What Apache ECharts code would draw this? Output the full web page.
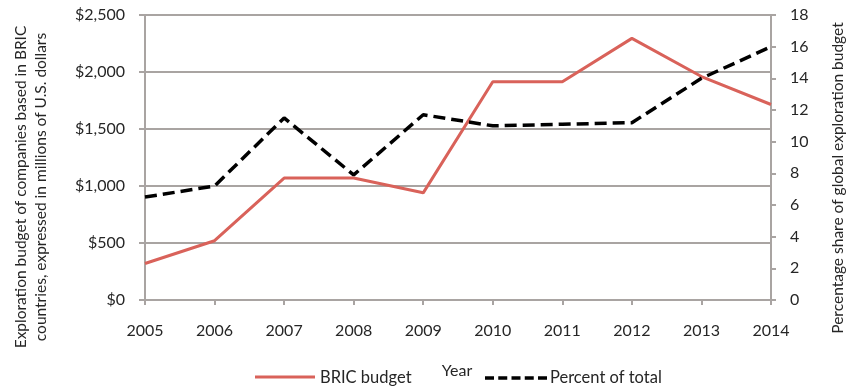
<!DOCTYPE html>
<html>
<head>
<meta charset="utf-8">
<script src="https://cdn.jsdelivr.net/npm/echarts@6/dist/echarts.min.js"></script>
<style>
  html, body { margin: 0; padding: 0; background: #fff; }
  #chart { width: 847px; height: 388px; }
</style>
</head>
<body>
<div id="chart"></div>
<script>
// Exploration budgets of BRIC-based companies, 2005–2014
const years = ['2005', '2006', '2007', '2008', '2009', '2010', '2011', '2012', '2013', '2014'];
const bricBudget = [320, 520, 1070, 1070, 940, 1915, 1915, 2295, 1960, 1715];   // millions of USD
const percentOfTotal = [6.5, 7.2, 11.5, 7.9, 11.7, 11.0, 11.1, 11.2, 14.0, 16.0]; // % of global budget

const leftTicks = { min: 0, max: 2500, interval: 500 };
const rightTicks = { min: 0, max: 18, interval: 2 };

const FONT = 'Lato, "Open Sans", sans-serif';
const TEXT = '#262626';
const GRID = '#a9a4a2';

const chart = echarts.init(document.getElementById('chart'));

chart.setOption({
  animation: false,
  backgroundColor: '#ffffff',
  grid: { left: 145, right: 76, top: 15, bottom: 88, containLabel: false },
  xAxis: {
    type: 'category',
    data: years,
    boundaryGap: false,
    axisLine: { lineStyle: { color: GRID, width: 2 } },
    axisTick: { show: true, length: 5, lineStyle: { color: GRID, width: 2 } },
    axisLabel: { color: TEXT, fontFamily: FONT, fontSize: 16, margin: 23 }
  },
  yAxis: [
    {
      type: 'value',
      position: 'left',
      min: leftTicks.min, max: leftTicks.max, interval: leftTicks.interval,
      axisLine: { show: true, lineStyle: { color: GRID, width: 2 } },
      axisTick: { show: true, length: 6, lineStyle: { color: GRID, width: 2 } },
      splitLine: { show: true, lineStyle: { color: GRID, width: 2 } },
      axisLabel: {
        color: TEXT, fontFamily: FONT, fontSize: 16, margin: 20,
        formatter: v => '$' + v.toLocaleString('en-US')
      }
    },
    {
      type: 'value',
      position: 'right',
      min: rightTicks.min, max: rightTicks.max, interval: rightTicks.interval,
      axisLine: { show: true, lineStyle: { color: GRID, width: 2 } },
      axisTick: { show: true, length: 5, lineStyle: { color: GRID, width: 2 } },
      splitLine: { show: false },
      axisLabel: { color: TEXT, fontFamily: FONT, fontSize: 16, margin: 19 }
    }
  ],
  legend: { show: false },
  series: [
    {
      name: 'BRIC budget',
      type: 'line',
      yAxisIndex: 0,
      data: bricBudget,
      symbol: 'none',
      lineStyle: { color: '#d9625a', width: 3 },
      z: 2
    },
    {
      name: 'Percent of total',
      type: 'line',
      yAxisIndex: 1,
      data: percentOfTotal,
      symbol: 'none',
      lineStyle: { color: '#000000', width: 3.5, type: [12, 6] },
      z: 3
    }
  ],
  graphic: [
    // left axis title (two lines, rotated)
    {
      type: 'text', x: 21, y: 187, rotation: Math.PI / 2,
      style: {
        text: 'Exploration budget of companies based in BRIC',
        fill: TEXT, font: '15.5px ' + FONT, align: 'center', verticalAlign: 'middle'
      }
    },
    {
      type: 'text', x: 41, y: 187, rotation: Math.PI / 2,
      style: {
        text: 'countries, expressed in millions of U.S. dollars',
        fill: TEXT, font: '15.5px ' + FONT, align: 'center', verticalAlign: 'middle'
      }
    },
    // right axis title
    {
      type: 'text', x: 838, y: 178, rotation: Math.PI / 2,
      style: {
        text: 'Percentage share of global exploration budget',
        fill: TEXT, font: '15.5px ' + FONT, align: 'center', verticalAlign: 'middle'
      }
    },
    // x axis title
    {
      type: 'text', x: 457, y: 371,
      style: { text: 'Year', fill: TEXT, font: '16px ' + FONT, align: 'center', verticalAlign: 'middle' }
    },
    // legend
    {
      type: 'line', shape: { x1: 255, y1: 377, x2: 315, y2: 377 },
      style: { stroke: '#d9625a', lineWidth: 3 }
    },
    {
      type: 'text', x: 320, y: 378,
      style: { text: 'BRIC budget', fill: TEXT, font: '16.5px ' + FONT, verticalAlign: 'middle' }
    },
    {
      type: 'line', shape: { x1: 485, y1: 378, x2: 547, y2: 378 },
      style: { stroke: '#000', lineWidth: 3.5, lineDash: [9, 4.25] }
    },
    {
      type: 'text', x: 550, y: 378,
      style: { text: 'Percent of total', fill: TEXT, font: '16.5px ' + FONT, verticalAlign: 'middle' }
    }
  ]
});
</script>
</body>
</html>
